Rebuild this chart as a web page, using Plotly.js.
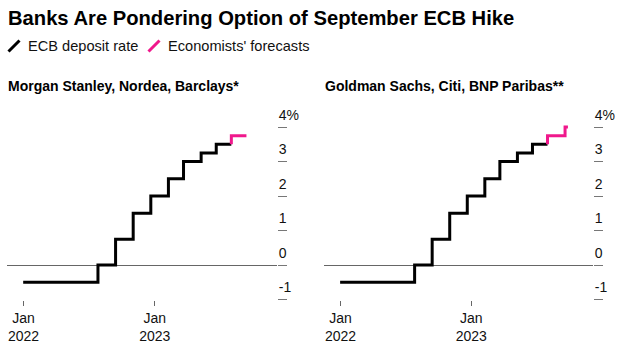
<!DOCTYPE html>
<html>
<head>
<meta charset="utf-8">
<script src="https://cdn.plot.ly/plotly-3.0.1.min.js"></script>
<style>html,body{margin:0;padding:0;background:#fff;}#chart{width:626px;height:351px;}</style>
</head>
<body>
<div id="chart"></div>
<script>
// ECB deposit rate (effective dates of changes), %
const ecbDates = ['2021-12-31','2022-07-27','2022-09-14','2022-11-02','2022-12-21','2023-02-08','2023-03-22','2023-05-10','2023-06-21','2023-08-02'];
const ecbRates = [-0.5, 0, 0.75, 1.5, 2.0, 2.5, 3.0, 3.25, 3.5, 3.5];

// Economists' forecasts – Morgan Stanley, Nordea, Barclays
const fcLeftDates = ['2023-08-02','2023-09-13'];
const fcLeftRates = [3.5, 3.75];
// Economists' forecasts – Goldman Sachs, Citi, BNP Paribas
const fcRightDates = ['2023-08-02','2023-09-20','2023-09-28'];
const fcRightRates = [3.5, 3.75, 4.0];

const panelTitles = ['Morgan Stanley, Nordea, Barclays*', 'Goldman Sachs, Citi, BNP Paribas**'];
const yTickVals = [-1, 0, 1, 2, 3, 4];
const yTickText = ['-1', '0', '1', '2', '3', '4%'];
const xTickVals = ['2022-01-01', '2023-01-01'];
const xTickText = ['Jan<br>2022', 'Jan<br>2023'];

const W = 626, H = 351;
const BLACK = '#000000', PINK = '#f0188c';
const FONT = 'Liberation Sans, Arial, sans-serif';
const px = x => x / W;
const py = y => 1 - y / H;

const traces = [
  {x: ecbDates, y: ecbRates, xaxis: 'x', yaxis: 'y', mode: 'lines', line: {color: BLACK, width: 3, shape: 'hv'}, hoverinfo: 'skip'},
  {x: fcLeftDates, y: fcLeftRates, xaxis: 'x', yaxis: 'y', mode: 'lines', line: {color: PINK, width: 3, shape: 'vh'}, hoverinfo: 'skip'},
  {x: ecbDates, y: ecbRates, xaxis: 'x2', yaxis: 'y2', mode: 'lines', line: {color: BLACK, width: 3, shape: 'hv'}, hoverinfo: 'skip'},
  {x: fcRightDates, y: fcRightRates, xaxis: 'x2', yaxis: 'y2', mode: 'lines', line: {color: PINK, width: 3, shape: 'vh'}, hoverinfo: 'skip'}
];

const xRange = ['2021-11-16', '2023-12-07'];
function xAxis(domain, anchor) {
  return {
    domain: domain, anchor: anchor, type: 'date', range: xRange,
    tickmode: 'array', tickvals: xTickVals, ticktext: xTickText,
    ticks: 'outside', ticklen: 5, tickwidth: 1, tickcolor: '#666',
    showgrid: false, zeroline: false, showline: false,
    tickfont: {family: FONT, size: 14, color: '#111'}, fixedrange: true
  };
}
function yAxis(anchor) {
  return {
    domain: [py(300), py(110)], anchor: anchor, side: 'right',
    range: [-1.0145, 4.493],
    tickmode: 'array', tickvals: yTickVals, ticktext: yTickText,
    ticks: 'outside', ticklen: 9, tickwidth: 1, tickcolor: '#777',
    ticklabelstandoff: -11, ticklabelshift: -12,
    showgrid: false, showline: false,
    zeroline: true, zerolinecolor: '#666', zerolinewidth: 1,
    tickfont: {family: FONT, size: 14, color: '#111'}, fixedrange: true
  };
}

const layout = {
  width: W, height: H,
  margin: {l: 0, r: 0, t: 0, b: 0},
  paper_bgcolor: '#fff', plot_bgcolor: '#fff',
  showlegend: false,
  xaxis: xAxis([px(7), px(277)], 'y'),
  yaxis: yAxis('x'),
  xaxis2: xAxis([px(324), px(593)], 'y2'),
  yaxis2: yAxis('x2'),
  shapes: [
    {type: 'line', xref: 'paper', yref: 'paper', x0: px(8.5), y0: py(51.5), x1: px(19.5), y1: py(40.5), line: {color: BLACK, width: 3}},
    {type: 'line', xref: 'paper', yref: 'paper', x0: px(148.5), y0: py(51.5), x1: px(159.5), y1: py(40.5), line: {color: PINK, width: 3}}
  ],
  annotations: [
    {text: '<b>Banks Are Pondering Option of September ECB Hike</b>', xref: 'paper', yref: 'paper', x: px(6), y: py(18), xanchor: 'left', yanchor: 'middle', showarrow: false, font: {family: FONT, size: 20.2, color: '#000'}},
    {text: 'ECB deposit rate', xref: 'paper', yref: 'paper', x: px(26), y: py(46), xanchor: 'left', yanchor: 'middle', showarrow: false, font: {family: FONT, size: 14.6, color: '#111'}},
    {text: "Economists' forecasts", xref: 'paper', yref: 'paper', x: px(166), y: py(46), xanchor: 'left', yanchor: 'middle', showarrow: false, font: {family: FONT, size: 14.6, color: '#111'}},
    {text: '<b>' + panelTitles[0] + '</b>', xref: 'paper', yref: 'paper', x: px(6), y: py(86), xanchor: 'left', yanchor: 'middle', showarrow: false, font: {family: FONT, size: 14, color: '#000'}},
    {text: '<b>' + panelTitles[1] + '</b>', xref: 'paper', yref: 'paper', x: px(323), y: py(86), xanchor: 'left', yanchor: 'middle', showarrow: false, font: {family: FONT, size: 14, color: '#000'}}
  ]
};

Plotly.newPlot('chart', traces, layout, {staticPlot: true, displayModeBar: false});
</script>
</body>
</html>
